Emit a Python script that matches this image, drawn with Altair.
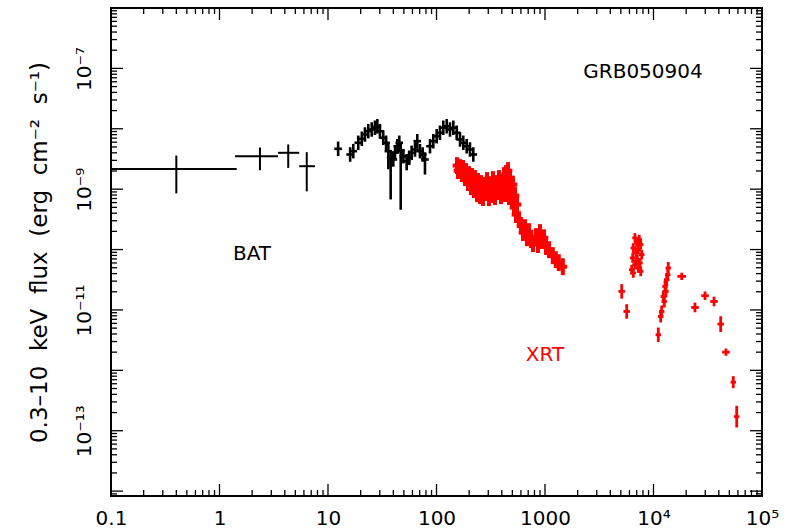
import altair as alt
import pandas as pd

# ---------------- data ----------------
# BAT: wide early bins (time in s, flux in erg cm^-2 s^-1)
BAT_BIN_T = [0.40, 2.36, 4.3, 6.37]
BAT_BIN_TLO = [0.10, 1.39, 3.46, 5.43]
BAT_BIN_THI = [1.44, 3.46, 5.43, 7.59]
BAT_BIN_F = [2.15e-9, 3.5e-9, 4.0e-9, 2.4e-9]
BAT_BIN_FLO = [8.5e-10, 2.06e-9, 2.25e-9, 9.2e-10]
BAT_BIN_FHI = [3.6e-9, 4.9e-9, 5.5e-9, 4.1e-9]

# BAT: finely binned light curve
BAT_T = [12.4, 16.0, 17.1, 19.0, 20.5, 21.9, 23.5, 25.3, 27.1, 28.5,
         30.1, 32.3, 34.3, 36.0, 37.8, 40.0, 41.5, 43.6, 45.4, 46.8,
         49.5, 53.1, 56.1, 59.0, 63.4, 66.5, 70.4, 74.6, 78.3, 87.1,
         93.4, 100.4, 107.6, 115.5, 124.2, 133.1, 142.9, 153.5, 164.7, 176.6,
         189.8, 203.5, 218.4]
BAT_F = [4.66e-9, 3.75e-9, 4.26e-9, 5.86e-9, 6.83e-9, 8.04e-9, 9.12e-9, 9.73e-9, 1.04e-8, 1.10e-8,
         9.12e-9, 7.09e-9, 5.86e-9, 4.26e-9, 3.31e-9, 3.10e-9, 4.05e-9, 5.14e-9, 5.86e-9, 4.26e-9,
         3.52e-9, 2.90e-9, 3.31e-9, 4.00e-9, 4.54e-9, 6.23e-9, 4.26e-9, 3.75e-9, 3.10e-9, 5.14e-9,
         6.23e-9, 7.53e-9, 8.59e-9, 1.04e-8, 1.10e-8, 9.73e-9, 1.04e-8, 8.59e-9, 6.65e-9, 5.86e-9,
         5.14e-9, 4.54e-9, 3.75e-9]
# lower flux error (dex) per point; upper error and time half-width are common readings
BAT_DEX_LO = [0.12, 0.12, 0.12, 0.12, 0.12, 0.12, 0.12, 0.12, 0.12, 0.12,
              0.12, 0.12, 0.12, 0.30, 0.69, 0.12, 0.12, 0.12, 0.12, 0.97,
              0.12, 0.15, 0.12, 0.12, 0.12, 0.12, 0.12, 0.12, 0.25, 0.12,
              0.12, 0.12, 0.12, 0.12, 0.12, 0.12, 0.12, 0.12, 0.12, 0.12,
              0.12, 0.12, 0.12]
BAT_DEX_HI = 0.12
BAT_DEX_T = 0.035

# XRT: early dense light curve
XRT1_T = [154.5, 157.8, 164.7, 171.8, 175.5, 183.1, 187.0, 195.1, 199.3, 208.0,
          212.4, 221.6, 226.4, 236.2, 241.3, 251.7, 257.1, 268.3, 274.0, 285.9,
          292.1, 304.7, 311.3, 324.8, 331.7, 346.1, 353.5, 368.9, 376.8, 393.1,
          401.6, 410.2, 419.0, 428.0, 437.1, 446.5, 456.1, 465.9, 475.9, 486.1,
          496.5, 507.1, 518.0, 529.1, 540.4, 552.0, 575.9, 600.9, 627.0, 654.2,
          682.5, 712.1, 743.0, 775.2, 826.2, 862.0, 899.4, 938.4, 979.0, 1021.0,
          1088.0, 1180.0, 1258.0, 1340.0, 1460.0]
XRT1_F = [2.46e-9, 2.03e-9, 2.28e-9, 1.81e-9, 2.20e-9, 1.56e-9, 1.96e-9, 1.29e-9, 1.75e-9, 1.10e-9,
          1.62e-9, 9.84e-10, 1.50e-9, 8.45e-10, 1.34e-9, 7.83e-10, 1.24e-9, 7.26e-10, 1.15e-9, 8.78e-10,
          1.39e-9, 7.26e-10, 1.19e-9, 8.13e-10, 1.44e-9, 7.54e-10, 1.24e-9, 9.12e-10, 1.50e-9, 7.83e-10,
          1.29e-9, 9.84e-10, 1.68e-9, 8.45e-10, 1.81e-9, 1.15e-9, 2.03e-9, 7.54e-10, 1.56e-9, 9.84e-10,
          6.72e-10, 1.19e-9, 4.96e-10, 7.83e-10, 3.79e-10, 5.56e-10, 3.13e-10, 2.49e-10, 1.91e-10, 2.31e-10,
          1.57e-10, 1.98e-10, 1.46e-10, 1.25e-10, 1.64e-10, 1.21e-10, 1.91e-10, 1.41e-10, 1.57e-10, 1.12e-10,
          9.96e-11, 7.92e-11, 6.80e-11, 6.07e-11, 5.20e-11]
XRT1_DEX_F = 0.14
XRT1_DEX_T = 0.04

# XRT: late light curve (flares and decay)
XRT2_T = [6748, 7397, 6998, 7624, 6512, 7243, 6902, 7788, 6430, 7091,
          7510, 6748, 6295, 7243, 7624, 6512,
          5093, 5662,
          13680, 13520, 13240, 12760, 13030, 12310, 12570, 11890, 11650, 11070,
          18200, 24110, 29850, 36130, 41610, 46560, 54330, 58450]
XRT2_F = [1.56e-10, 1.46e-10, 1.29e-10, 1.21e-10, 1.06e-10, 9.96e-11, 8.79e-11, 8.22e-11, 7.26e-11, 6.80e-11,
          6.00e-11, 5.62e-11, 4.64e-11, 4.95e-11, 4.35e-11, 4.09e-11,
          2.03e-11, 9.44e-12,
          4.95e-11, 3.84e-11, 3.17e-11, 2.45e-11, 2.03e-11, 1.67e-11, 1.38e-11, 9.44e-12, 7.80e-12, 3.88e-12,
          3.60e-11, 1.10e-11, 1.72e-11, 1.38e-11, 5.83e-12, 2.00e-12, 6.37e-13, 1.71e-13]
XRT2_DEX_F = [0.08, 0.08, 0.08, 0.08, 0.08, 0.08, 0.08, 0.08, 0.08, 0.08,
              0.08, 0.08, 0.08, 0.08, 0.08, 0.08,
              0.12, 0.12,
              0.10, 0.10, 0.10, 0.10, 0.10, 0.10, 0.10, 0.10, 0.10, 0.12,
              0.06, 0.08, 0.07, 0.08, 0.13, 0.06, 0.10, 0.18]
XRT2_DEX_T = [0.025, 0.025, 0.025, 0.025, 0.025, 0.025, 0.025, 0.025, 0.025, 0.025,
              0.025, 0.025, 0.025, 0.025, 0.025, 0.025,
              0.03, 0.03,
              0.025, 0.025, 0.025, 0.025, 0.025, 0.025, 0.025, 0.025, 0.025, 0.025,
              0.04, 0.035, 0.035, 0.035, 0.03, 0.035, 0.025, 0.025]

X_LABEL_VALUES = [0.1, 1, 10, 100, 1000, 1e4, 1e5]
Y_LABEL_VALUES = [1e-13, 1e-11, 1e-9, 1e-7]
SP = "\u00a0\u00a0"
Y_TITLE = ("0.3\u201310" + SP + "keV" + SP + "flux" + SP + "(erg" + SP
           + "cm\u207b\u00b2" + SP + "s\u207b\u00b9)")
NAME = "GRB050904"

# ---------------- build tables ----------------
rows = []
for i in range(len(BAT_BIN_T)):
    rows.append(dict(t=BAT_BIN_T[i], tlo=BAT_BIN_TLO[i], thi=BAT_BIN_THI[i],
                     f=BAT_BIN_F[i], flo=BAT_BIN_FLO[i], fhi=BAT_BIN_FHI[i], s="BAT"))
bat_bins = pd.DataFrame(rows)
rows = []
for i in range(len(BAT_T)):
    rows.append(dict(t=BAT_T[i], tlo=BAT_T[i] / 10 ** BAT_DEX_T, thi=BAT_T[i] * 10 ** BAT_DEX_T,
                     f=BAT_F[i], flo=BAT_F[i] / 10 ** BAT_DEX_LO[i], fhi=BAT_F[i] * 10 ** BAT_DEX_HI, s="BAT"))
bat = pd.DataFrame(rows)

rows = []
for i in range(len(XRT1_T)):
    rows.append(dict(t=XRT1_T[i], tlo=XRT1_T[i] / 10 ** XRT1_DEX_T, thi=XRT1_T[i] * 10 ** XRT1_DEX_T,
                     f=XRT1_F[i], flo=XRT1_F[i] / 10 ** XRT1_DEX_F, fhi=XRT1_F[i] * 10 ** XRT1_DEX_F, s="XRT"))
xrt1 = pd.DataFrame(rows)
rows = []
for i in range(len(XRT2_T)):
    rows.append(dict(t=XRT2_T[i], tlo=XRT2_T[i] / 10 ** XRT2_DEX_T[i], thi=XRT2_T[i] * 10 ** XRT2_DEX_T[i],
                     f=XRT2_F[i], flo=XRT2_F[i] / 10 ** XRT2_DEX_F[i], fhi=XRT2_F[i] * 10 ** XRT2_DEX_F[i], s="XRT"))
xrt2 = pd.DataFrame(rows)

# ---------------- layout ----------------
W, H = 651, 488
XS = alt.Scale(type="log", domain=[0.1, 1e5], nice=False)
YS = alt.Scale(type="log", domain=[8.3e-15, 1e-6], nice=False)
FONT = "DejaVu Sans"

x_major = [10.0 ** e for e in range(-1, 6)]
x_minor = [m * 10.0 ** e for e in range(-1, 5) for m in range(2, 10)]
y_major = [10.0 ** e for e in range(-14, -5)]
y_minor = [m * 10.0 ** e for e in range(-15, -6) for m in range(2, 10) if 8.3e-15 <= m * 10.0 ** e <= 1e-6]

XAX = alt.Axis(values=X_LABEL_VALUES, title="", domain=False, ticks=False, tickSize=0, grid=False,
               labelExpr="datum.value > 50000 ? '10\u2075' : (datum.value > 5000 ? '10\u2074' : format(datum.value, ''))",
               labelFont=FONT, labelFontSize=20, labelColor="black", labelPadding=12,
               labelFlush=False, labelOverlap=False, labelBound=False)
YAX = alt.Axis(values=Y_LABEL_VALUES, title=Y_TITLE, domain=False, ticks=False, tickSize=0, grid=False,
               labelExpr="datum.value < 1e-12 ? '10\u207b\u00b9\u00b3' : (datum.value < 1e-10 ? '10\u207b\u00b9\u00b9' : (datum.value < 1e-8 ? '10\u207b\u2079' : '10\u207b\u2077'))",
               labelFont=FONT, labelFontSize=20, labelColor="black", labelPadding=17,
               labelAngle=270, labelAlign="center", labelBaseline="bottom",
               labelFlush=False, labelOverlap=False, labelBound=False,
               titleFont=FONT, titleFontSize=23, titleFontWeight="normal", titleColor="black",
               titleAngle=270, titleAlign="center", titleBaseline="bottom", titleX=-60, titleY=244)


def X(field):
    return alt.X(field, type="quantitative", scale=XS, axis=XAX)


def Y(field):
    return alt.Y(field, type="quantitative", scale=YS, axis=YAX)


def tick_layers(vals, length):
    d = pd.DataFrame({"v": vals})
    xb = alt.Chart(d).mark_rule(color="black", strokeWidth=1.3)
    return [xb.encode(x=X("v"), y=alt.value(H), y2=alt.value(H - length)),
            xb.encode(x=X("v"), y=alt.value(0), y2=alt.value(length))]


def ytick_layers(vals, length):
    d = pd.DataFrame({"v": vals})
    yb = alt.Chart(d).mark_rule(color="black", strokeWidth=1.3)
    return [yb.encode(y=Y("v"), x=alt.value(0), x2=alt.value(length)),
            yb.encode(y=Y("v"), x=alt.value(W), x2=alt.value(W - length))]


def err_layers(df, color, sw):
    base = alt.Chart(df).mark_rule(color=color, strokeWidth=sw)
    xb = base.encode(x=X("tlo"), x2="thi:Q", y=Y("f"))
    yb = base.encode(x=X("t"), y=Y("flo"), y2="fhi:Q")
    return [xb, yb]


def label(text, x, y, color):
    return alt.Chart(pd.DataFrame({"txt": [text]})).mark_text(
        font=FONT, fontSize=20, color=color, align="center", baseline="middle"
    ).encode(text="txt:N", x=alt.value(x), y=alt.value(y))


layers = []
layers += err_layers(bat_bins, "black", 2.0)
layers += err_layers(bat, "black", 2.6)
layers += err_layers(xrt1, "#ff0000", 4.0)
layers += err_layers(xrt2, "#ff0000", 2.8)
layers += tick_layers(x_major, 12) + tick_layers(x_minor, 6)
layers += ytick_layers(y_major, 12) + ytick_layers(y_minor, 6)
layers += [label(NAME, 532, 64, "black"), label("BAT", 141, 246, "black"), label("XRT", 434, 347, "#ff0000")]

chart = alt.layer(*layers).properties(
    width=W, height=H,
    autosize=alt.AutoSizeParams(type="none"),
    padding={"left": 111, "top": 8, "right": 36, "bottom": 34},
    background="white",
).configure_view(stroke="black", strokeWidth=2)

chart.save("out.html", embed_options={"renderer": "svg", "actions": False})
